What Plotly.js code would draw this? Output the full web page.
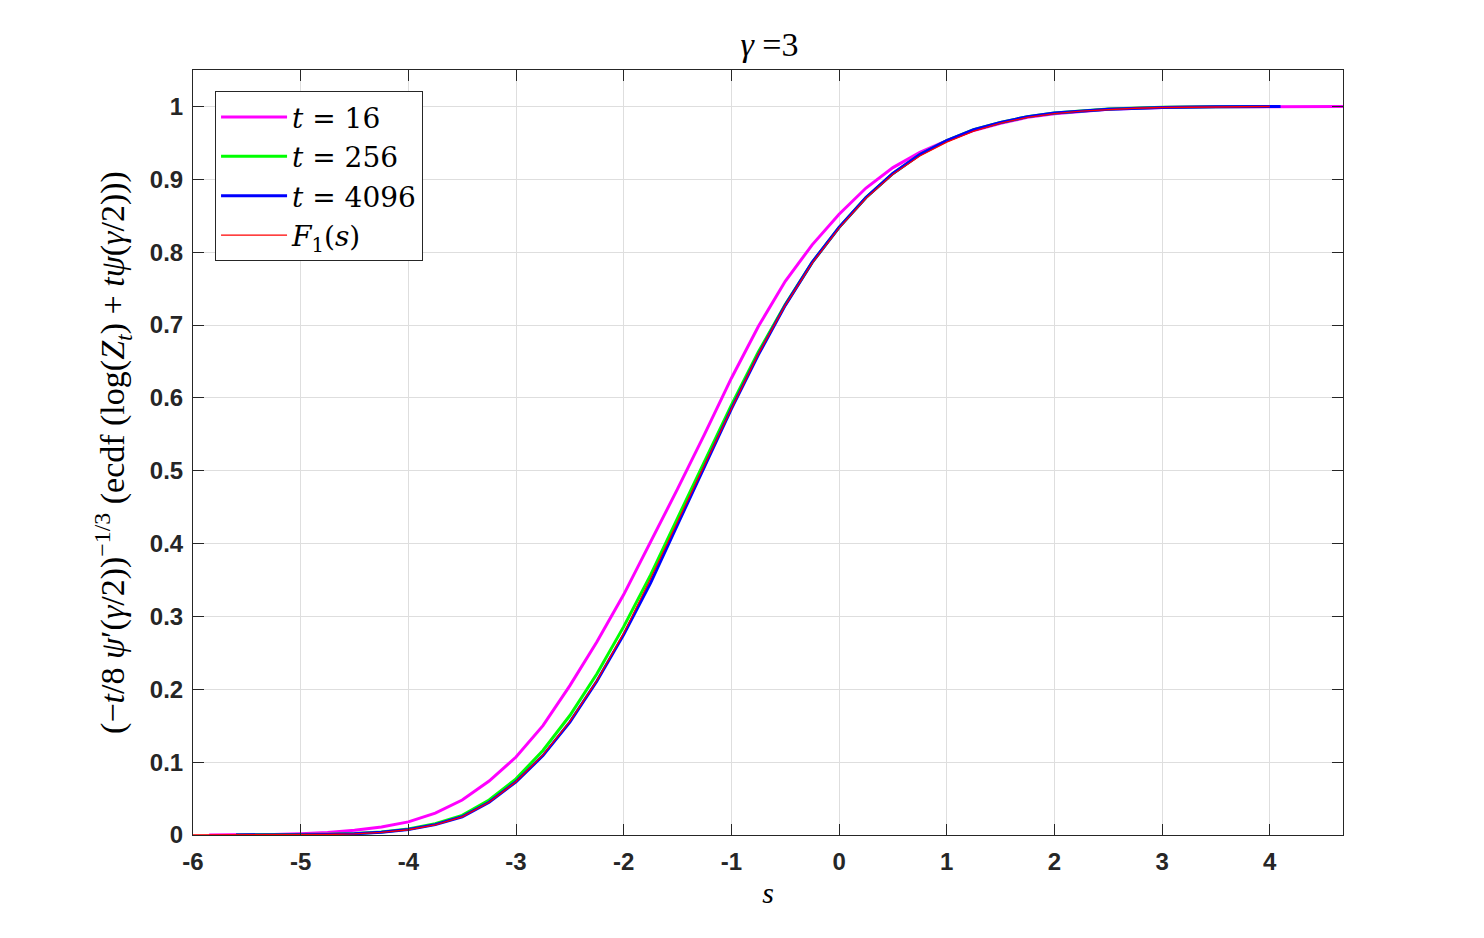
<!DOCTYPE html>
<html>
<head>
<meta charset="utf-8">
<script src="https://cdn.plot.ly/plotly-3.0.1.min.js"></script>
<style>html,body{margin:0;padding:0;background:#fff;}#chart{width:1484px;height:938px;}</style>
</head>
<body>
<div id="chart"></div>
<script>
// t = 16
const s16 = [-5.85,-5.5,-5.25,-5,-4.75,-4.5,-4.25,-4,-3.75,-3.5,-3.25,-3,-2.75,-2.5,-2.25,-2,-1.75,-1.5,-1.25,-1,-0.75,-0.5,-0.25,0,0.25,0.5,0.75,1,1.25,1.5,1.75,2,2.5,3,3.5,4,4.7];
const f16 = [0,0.0003,0.0008,0.0018,0.0035,0.0065,0.011,0.018,0.03,0.048,0.074,0.107,0.15,0.205,0.265,0.33,0.402,0.475,0.55,0.627,0.698,0.76,0.81,0.852,0.888,0.916,0.937,0.953,0.967,0.977,0.985,0.990,0.996,0.9985,0.9995,1,1];
// t = 256
const s256 = [-5.6,-5.25,-5,-4.75,-4.5,-4.25,-4,-3.75,-3.5,-3.25,-3,-2.75,-2.5,-2.25,-2,-1.75,-1.5,-1.25,-1,-0.75,-0.5,-0.25,0,0.25,0.5,0.75,1,1.25,1.5,1.75,2,2.5,3,3.5,4];
const f256 = [0,0.0002,0.0004,0.0009,0.0019,0.0042,0.0082,0.0155,0.027,0.048,0.077,0.116,0.164,0.221,0.286,0.357,0.435,0.513,0.59,0.663,0.728,0.786,0.834,0.875,0.908,0.934,0.953,0.968,0.978,0.986,0.991,0.9965,0.9988,0.9996,1];
// t = 4096
const s4096 = [-5.6,-5.25,-5,-4.75,-4.5,-4.25,-4,-3.75,-3.5,-3.25,-3,-2.75,-2.5,-2.25,-2,-1.75,-1.5,-1.25,-1,-0.75,-0.5,-0.25,0,0.25,0.5,0.75,1,1.25,1.5,1.75,2,2.5,3,3.5,4.1];
const f4096 = [0,0.0001,0.0003,0.0008,0.0017,0.0038,0.0075,0.0142,0.025,0.045,0.073,0.109,0.155,0.211,0.275,0.346,0.426,0.506,0.585,0.659,0.727,0.786,0.834,0.875,0.908,0.934,0.953,0.968,0.978,0.986,0.991,0.9962,0.9987,0.9995,1];
// F1(s)
const sF1 = [-6,-5.75,-5.5,-5.25,-5,-4.75,-4.5,-4.25,-4,-3.75,-3.5,-3.25,-3,-2.75,-2.5,-2.25,-2,-1.75,-1.5,-1.25,-1,-0.75,-0.5,-0.25,0,0.25,0.5,0.75,1,1.25,1.5,1.75,2,2.25,2.5,2.75,3,3.25,3.5,3.75,4];
const fF1 = [0,0.00002,0.00005,0.0001,0.0003,0.0007,0.0015,0.0035,0.0072,0.014,0.025,0.045,0.073,0.11,0.156,0.212,0.277,0.352,0.43,0.508,0.585,0.66,0.727,0.785,0.833,0.874,0.907,0.932,0.951,0.966,0.977,0.985,0.990,0.9935,0.996,0.9975,0.9985,0.9991,0.9995,0.9998,0.9999];

const xTicks = [-6,-5,-4,-3,-2,-1,0,1,2,3,4];
const yTicks = [0,0.1,0.2,0.3,0.4,0.5,0.6,0.7,0.8,0.9,1];
const labels = ['<i>t</i> = 16','<i>t</i> = 256','<i>t</i> = 4096','<i>F</i><sub>1</sub>(<i>s</i>)'];

const serif = 'Liberation Serif, DejaVu Serif, serif';
const axCol = '#262626';

const traces = [
  {x: s16, y: f16, name: labels[0], mode: 'lines', line: {color: '#ff00ff', width: 3}},
  {x: s256, y: f256, name: labels[1], mode: 'lines', line: {color: '#00ff00', width: 3}},
  {x: s4096, y: f4096, name: labels[2], mode: 'lines', line: {color: '#0000ff', width: 3}},
  {x: sF1, y: fF1, name: labels[3], mode: 'lines', line: {color: '#ff0000', width: 1.3}}
];

function axisCommon() {
  return {
    showline: true, linecolor: axCol, linewidth: 1, mirror: 'ticks',
    ticks: 'inside', ticklen: 11, tickcolor: axCol, tickwidth: 1,
    showgrid: true, gridcolor: '#dedede', gridwidth: 1, zeroline: false,
    tickfont: {family: 'Liberation Sans, Arial, sans-serif', size: 24, color: axCol, weight: 700}
  };
}

const layout = {
  width: 1484, height: 938,
  margin: {l: 193, r: 141, t: 70, b: 103},
  paper_bgcolor: '#fff', plot_bgcolor: '#fff',
  title: {text: '<i>γ</i> =3', x: 0.5185, xanchor: 'center', y: 0.953, yanchor: 'middle',
          font: {family: serif, size: 34, color: '#000'}},
  xaxis: Object.assign(axisCommon(), {
    range: [-6, 4.68], tickvals: xTicks, ticktext: xTicks.map(String), ticklabelstandoff: 5,
    title: {text: '<i>s</i>', font: {family: serif, size: 30, color: '#000'}, standoff: 8}
  }),
  yaxis: Object.assign(axisCommon(), {
    range: [0, 1.05], tickvals: yTicks, ticktext: yTicks.map(String), ticklabelstandoff: 4,
    title: {text: '(−<i>t</i>/8 <i>ψ</i>′(<i>γ</i>/2))<sup>−1/3</sup> (ecdf (log(<i>Z</i><sub><i>t</i></sub>) + <i>tψ</i>(<i>γ</i>/2)))',
            font: {family: serif, size: 34, color: '#000'}, standoff: 14}
  }),
  showlegend: true,
  legend: {
    x: 0.019, y: 0.9725, xanchor: 'left', yanchor: 'top',
    bgcolor: '#fff', bordercolor: axCol, borderwidth: 1.2,
    font: {family: 'DejaVu Serif, Liberation Serif, serif', size: 28, color: '#000'},
    itemwidth: 66, tracegroupgap: 0
  }
};

Plotly.newPlot('chart', traces, layout, {displayModeBar: false, staticPlot: true});
</script>
</body>
</html>
